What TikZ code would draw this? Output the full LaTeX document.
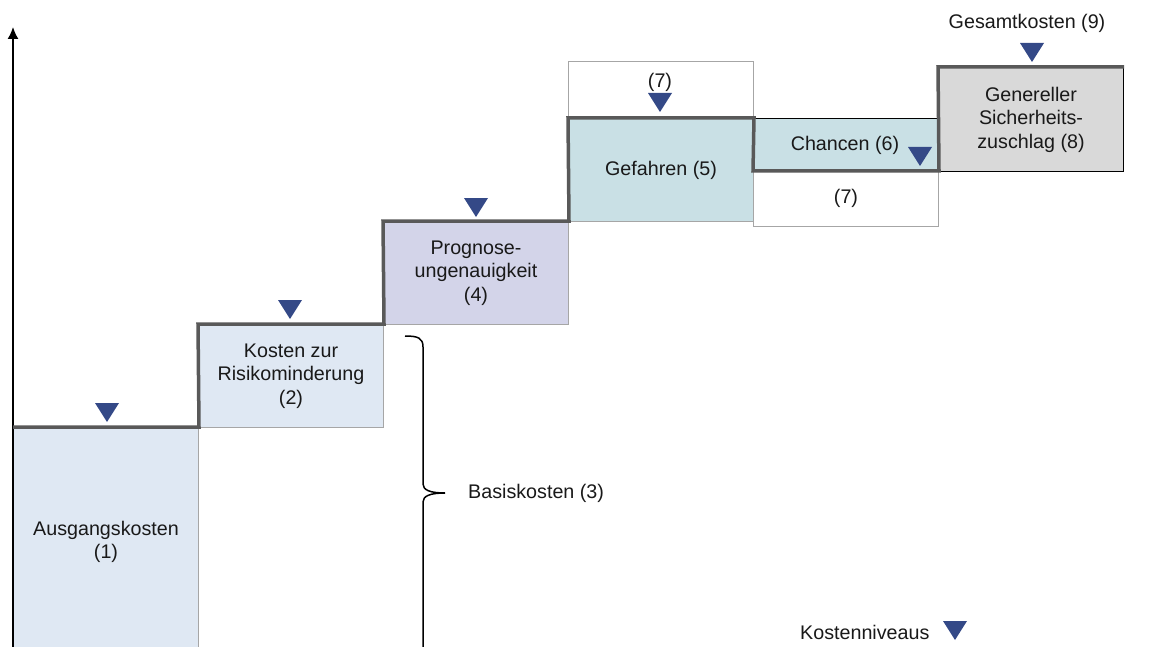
\documentclass[tikz,border=0pt]{standalone}
\usepackage{fontspec}
\setmainfont{Liberation Sans}
\usetikzlibrary{arrows.meta}
\definecolor{cBlue}{RGB}{223,232,243}
\definecolor{cLav}{RGB}{211,212,233}
\definecolor{cTeal}{RGB}{201,224,229}
\definecolor{cGrey}{RGB}{217,217,217}
\definecolor{triBlue}{RGB}{52,73,135}
\definecolor{stepGray}{RGB}{89,89,89}
\definecolor{thinGray}{RGB}{166,166,166}
\begin{document}
\begin{tikzpicture}[x=1pt,y=-1pt,
  every node/.style={font=\fontsize{19.7}{23.5}\selectfont, text=black!90},
  box/.style={draw=thinGray, line width=1pt, anchor=north west, inner sep=0pt, align=center},
  stepline/.style={draw=stepGray, line width=3.5pt, line join=miter},
  marker/.style={fill=triBlue},
  lbl/.style={inner sep=0pt, align=center}]
\useasboundingbox (0,0) rectangle (1158,647);

% boxes
\node[box, fill=cBlue, minimum width=185, minimum height=240] (b1) at (13,427) {};
\node[lbl] (t1) at (106,542) {Ausgangskosten\\(1)};
\node[box, fill=cBlue, minimum width=185, minimum height=103] (b2) at (198,324) {Kosten zur\\Risikominderung\\(2)};
\node[box, fill=cLav, minimum width=185, minimum height=103] (b4) at (383,221) {Prognose-\\ungenauigkeit\\(4)};
\node[box, fill=cTeal, minimum width=185, minimum height=103] (b5) at (568,118) {Gefahren (5)};
\node[box, fill=white, minimum width=185, minimum height=57] (b7a) at (568,61) {};
\node[lbl] (t7a) at (660,82) {(7)};
\node[box, fill=cTeal, draw=black, minimum width=185, minimum height=52] (b6) at (753,118) {};
\node[lbl] (t6) at (845,145) {Chancen (6)};
\node[box, fill=white, minimum width=185, minimum height=56] (b7b) at (753,170) {(7)};
\node[box, fill=cGrey, draw=black, minimum width=185, minimum height=104] (b8) at (938,67) {Genereller\\Sicherheits-\\zuschlag (8)};

% axis
\coordinate (ax0) at (13,660);
\coordinate (ax1) at (13,27);
\draw[line width=1.5pt, -{Latex[length=12pt,width=11pt]}] (ax0) -- (ax1);

% step line
\draw[stepline] (b1.north west) -- (b1.north east) -- (b2.north west) -- (b2.north east)
  -- (b4.north west) -- (b4.north east) -- (b5.north west) -- (b5.north east)
  -- (b6.south west) -- (b6.south east) -- (b8.north west) -- (b8.north east);

% markers
\foreach \n/\x/\y in {m1/107/403, m2/290/300, m4/476/198, m5/660/93, m6/920/147, m9/1032/43, mk/955/621}{
  \coordinate (\n) at (\x,\y);
  \fill[marker] (\n) ++(-12,0) -- ++(24,0) -- ++(-12,19) -- cycle;
}

% labels
\node[lbl] (t9) at (1027,23) {Gesamtkosten (9)};
\node[lbl, anchor=west] (tk) at (800,632) {Kostenniveaus};

% brace
\coordinate (bt) at (405,336);
\coordinate (bm) at (445,493);
\coordinate (bb) at (405,664);
\draw[line width=1.5pt, black] (bt) .. controls (418,336) and (423,338) .. (423,347)
  -- (423,484) .. controls (423,490) and (430,493) .. (bm)
  .. controls (430,493) and (423,496) .. (423,502) -- (423,653)
  .. controls (423,662) and (418,664) .. (bb);
\node[lbl, anchor=west] (t3) at (468,493) {Basiskosten (3)};
\end{tikzpicture}
\end{document}
